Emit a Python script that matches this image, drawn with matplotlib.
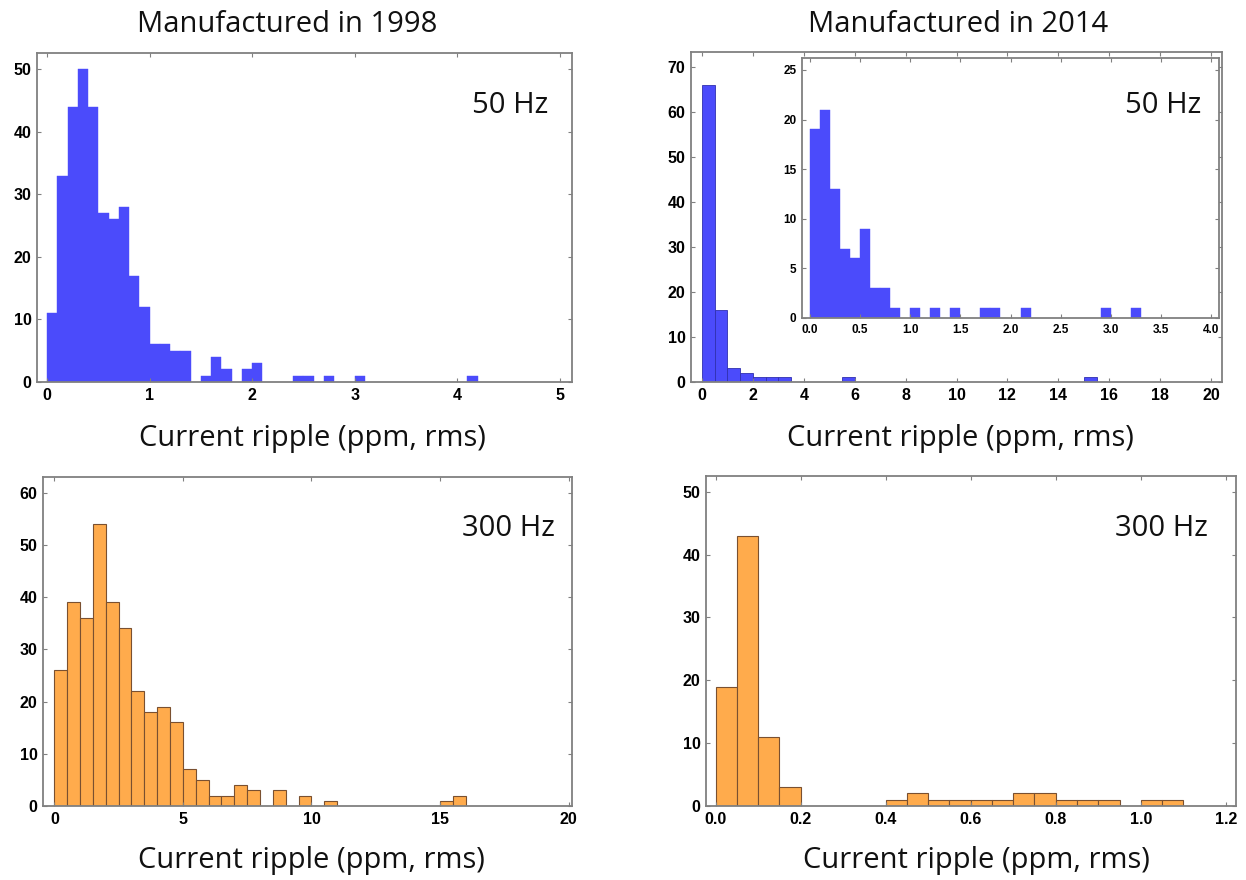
import matplotlib
matplotlib.use("Agg")
import matplotlib.pyplot as plt
import numpy as np

W, H = 1246, 880

# histogram counts, one value per bin starting at 0
bin_1998_50hz = 0.1
counts_1998_50hz = [11, 33, 44, 50, 44, 27, 26, 28, 17, 12, 6, 6, 5, 5, 0, 1, 4, 2, 0, 2,
                    3, 0, 0, 0, 1, 1, 0, 1, 0, 0, 1, 0, 0, 0, 0, 0, 0, 0, 0, 0, 0, 1]

bin_2014_50hz = 0.5
counts_2014_50hz = [66, 16, 3, 2, 1, 1, 1, 0, 0, 0, 0, 1, 0, 0, 0, 0, 0, 0, 0, 0,
                    0, 0, 0, 0, 0, 0, 0, 0, 0, 0, 1]

bin_2014_50hz_zoom = 0.1
counts_2014_50hz_zoom = [19, 21, 13, 7, 6, 9, 3, 3, 1, 0, 1, 0, 1, 0, 1, 0, 0, 1, 1, 0,
                         0, 1, 0, 0, 0, 0, 0, 0, 0, 1, 0, 0, 1]

bin_1998_300hz = 0.5
counts_1998_300hz = [26, 39, 36, 54, 39, 34, 22, 18, 19, 16, 7, 5, 2, 2, 4, 3, 0, 3, 0, 2,
                     0, 1, 0, 0, 0, 0, 0, 0, 0, 0, 1, 2]

bin_2014_300hz = 0.05
counts_2014_300hz = [19, 43, 11, 3, 0, 0, 0, 0, 1, 2, 1, 1, 1, 1, 2, 2, 1, 1, 1, 0, 1, 1]

titles = ["Manufactured in 1998", "Manufactured in 2014"]
xlabel = "Current ripple (ppm, rms)"

BLUE = "#4b4bfb"
ORANGE = "#ffab4c"
FRAME = "#808080"


def px_axes(fig, left, top, right, bottom):
    return fig.add_axes([left / W, 1 - bottom / H, (right - left) / W, (bottom - top) / H])


def draw_hist(ax, counts, width, color, edgecolor, lw):
    counts = np.asarray(counts)
    lefts = np.arange(len(counts)) * width
    keep = counts > 0
    ax.bar(lefts[keep], counts[keep], width=width, align="edge",
           color=color, edgecolor=edgecolor, linewidth=lw)


def style(ax, xlim, ylim, xticks, yticks, xfmt, size=11.5):
    ax.set_xlim(*xlim)
    ax.set_ylim(*ylim)
    ax.set_xticks(xticks)
    ax.set_yticks(yticks)
    ax.set_xticklabels([xfmt.format(t) for t in xticks])
    for s in ax.spines.values():
        s.set_color(FRAME)
        s.set_linewidth(1.3)
    ax.tick_params(direction="in", length=3, width=0.8, color=FRAME,
                   top=True, right=True, labelsize=size, pad=4)
    for lab in ax.get_xticklabels() + ax.get_yticklabels():
        lab.set_fontweight("bold")
        lab.set_family("Liberation Sans")


def fig_text(fig, x, y, s, size, ha="center"):
    fig.text(x / W, 1 - y / H, s, fontsize=size, family="Open Sans",
             ha=ha, va="center", color="#111111")


fig = plt.figure(figsize=(W / 100, H / 100), dpi=100)

# top left
ax = px_axes(fig, 37, 53, 572, 382)
draw_hist(ax, counts_1998_50hz, bin_1998_50hz, BLUE, BLUE, 0.3)
style(ax, (-0.1, 5.12), (0, 52.6), range(0, 6), range(0, 51, 10), "{:d}")

# top right with inset
ax = px_axes(fig, 691, 52, 1222, 382)
draw_hist(ax, counts_2014_50hz, bin_2014_50hz, BLUE, "#3030b0", 0.6)
style(ax, (-0.43, 20.43), (0, 73.3), range(0, 21, 2), range(0, 71, 10), "{:d}")

ins = px_axes(fig, 802, 58, 1219, 318)
draw_hist(ins, counts_2014_50hz_zoom, bin_2014_50hz_zoom, BLUE, BLUE, 0.3)
style(ins, (-0.08, 4.08), (0, 26.2), np.arange(0, 4.01, 0.5), range(0, 26, 5), "{:.1f}", size=8.5)

# bottom left
ax = px_axes(fig, 43, 477, 572, 806)
draw_hist(ax, counts_1998_300hz, bin_1998_300hz, ORANGE, "#7a5030", 0.8)
style(ax, (-0.44, 20.13), (0, 63.0), range(0, 21, 5), range(0, 61, 10), "{:d}")

# bottom right
ax = px_axes(fig, 706, 476, 1236, 806)
draw_hist(ax, counts_2014_300hz, bin_2014_300hz, ORANGE, "#7a5030", 0.8)
style(ax, (-0.0226, 1.224), (0, 52.5), np.arange(0, 1.21, 0.2), range(0, 51, 10), "{:.1f}")

fig_text(fig, 287, 24, titles[0], 21)
fig_text(fig, 958, 24, titles[1], 21)
fig_text(fig, 312, 438, xlabel, 21)
fig_text(fig, 960, 438, xlabel, 21)
fig_text(fig, 311, 860, xlabel, 21)
fig_text(fig, 976, 860, xlabel, 21)

fig_text(fig, 510, 105, "50 Hz", 21)
fig_text(fig, 1163, 105, "50 Hz", 21)
fig_text(fig, 508, 528, "300 Hz", 21)
fig_text(fig, 1161, 528, "300 Hz", 21)

fig.savefig("out.png", dpi=100)
